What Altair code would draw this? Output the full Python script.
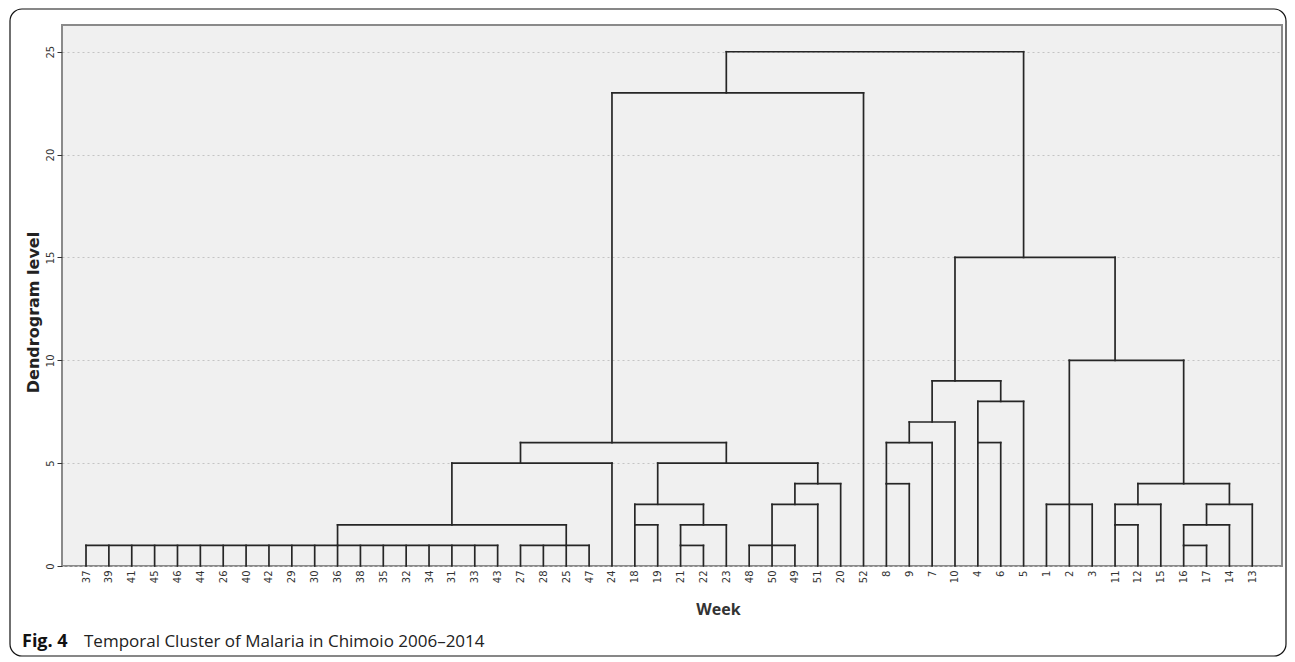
import math
import altair as alt
import pandas as pd

# Leaf order along the x axis (week numbers)
weeks = [37, 39, 41, 45, 46, 44, 26, 40, 42, 29, 30, 36, 38, 35, 32, 34, 31, 33, 43,
         27, 28, 25, 47, 24, 18, 19, 21, 22, 23, 48, 50, 49, 51, 20, 52,
         8, 9, 7, 10, 4, 6, 5, 1, 2, 3, 11, 12, 15, 16, 17, 14, 13]

# Merges: (name, children, dendrogram level, week under the stem for flat merges)
merge_names = ["A1", "A2", "A", "A24", "B1", "B2a", "B2", "B3", "C1", "C2", "C3", "B",
               "L6", "L23", "D1", "D2", "D3", "E1", "E2", "DE", "F", "G1", "G2",
               "H1", "H2", "H3", "GH", "FGH", "R15", "ROOT"]
merge_children = [
    [37, 39, 41, 45, 46, 44, 26, 40, 42, 29, 30, 36, 38, 35, 32, 34, 31, 33, 43],
    [27, 28, 25, 47],
    ["A1", "A2"],
    ["A", 24],
    [18, 19],
    [21, 22],
    ["B2a", 23],
    ["B1", "B2"],
    [48, 50, 49],
    ["C1", 51],
    ["C2", 20],
    ["B3", "C3"],
    ["A24", "B"],
    ["L6", 52],
    [8, 9],
    ["D1", 7],
    ["D2", 10],
    [4, 6],
    ["E1", 5],
    ["D3", "E2"],
    [1, 2, 3],
    [11, 12],
    ["G1", 15],
    [16, 17],
    ["H1", 14],
    ["H2", 13],
    ["G2", "H3"],
    ["F", "GH"],
    ["DE", "FGH"],
    ["L23", "R15"],
]
merge_levels = [1, 1, 2, 5, 2, 1, 2, 3, 1, 3, 4, 5, 6, 23, 4, 6, 7, 6, 8, 9, 3, 2, 3,
                1, 2, 3, 4, 10, 15, 25]
merge_anchor = {"A1": 36, "A2": 25}

y_ticks = [0, 5, 10, 15, 20, 25]

# ---- build the elbow segments of the dendrogram ----
pos = {w: i for i, w in enumerate(weeks)}
stem = {w: float(pos[w]) for w in weeks}
lvl = {w: 0.0 for w in weeks}
rows = []
for name, kids, level in zip(merge_names, merge_children, merge_levels):
    s0, s1 = stem[kids[0]], stem[kids[-1]]
    rows.append({"x": s0, "x2": s1, "y": level, "y2": level})
    for k in kids:
        rows.append({"x": stem[k], "x2": stem[k], "y": lvl[k], "y2": level})
    if name in merge_anchor:
        stem[name] = float(pos[merge_anchor[name]])
    else:
        stem[name] = float(math.floor((s0 + s1) / 2))
    lvl[name] = level
seg = pd.DataFrame(rows)

label_expr = "[" + ",".join("'%d'" % w for w in weeks) + "][datum.value]"

dendro = alt.Chart(seg).mark_rule(color="#262626", strokeWidth=1.7, strokeCap="square").encode(
    x=alt.X("x:Q",
            scale=alt.Scale(domain=[-1.05, 52.3], nice=False, zero=False),
            axis=alt.Axis(values=list(range(len(weeks))), labelExpr=label_expr,
                          labelAngle=270, labelFontSize=10, labelColor="#333333",
                          labelFont="DejaVu Sans", labelPadding=4, ticks=False,
                          domain=False, grid=False, title="Week",
                          titleFont="Open Sans", titleFontSize=16, titleFontWeight="bold",
                          titleColor="#333333", titleX=656, titleY=48,
                          titleAlign="center", titleBaseline="alphabetic")),
    x2="x2:Q",
    y=alt.Y("y:Q",
            scale=alt.Scale(domain=[0, 26.3], nice=False, zero=True),
            axis=alt.Axis(values=y_ticks, labelAngle=270, labelFontSize=10,
                          labelColor="#333333", labelFont="DejaVu Sans",
                          labelPadding=2, tickSize=5, tickColor="#333333",
                          domain=False, grid=True, gridColor="#c4c4c4",
                          gridDash=[2, 3], gridWidth=1.2,
                          title="Dendrogram level", titleFont="DejaVu Sans",
                          titleFontSize=16, titleFontWeight="bold",
                          titleColor="#222222", titlePadding=4, titleY=287)),
    y2="y2:Q",
)

one = pd.DataFrame({"k": [0]})
frame = alt.Chart(one).mark_rect(filled=False, stroke="#111111", strokeWidth=1.2,
                                 cornerRadius=12).encode(
    x=alt.value(-52), x2=alt.value(1224), y=alt.value(-16), y2=alt.value(631))

cap_bold = alt.Chart(one).mark_text(text="Fig. 4", font="Open Sans", fontSize=18,
                                    fontWeight="bold", align="left",
                                    baseline="alphabetic", color="#111111").encode(
    x=alt.value(-40), y=alt.value(622))
cap_text = alt.Chart(one).mark_text(text="Temporal Cluster of Malaria in Chimoio 2006\u20132014",
                                    font="Open Sans", fontSize=17, align="left",
                                    baseline="alphabetic", color="#222222").encode(
    x=alt.value(22), y=alt.value(622))

chart = alt.layer(frame, dendro, cap_bold, cap_text).properties(
    width=1220, height=541,
    padding={"left": 54, "top": 17, "right": 5, "bottom": 91},
    autosize=alt.AutoSizeParams(type="none"),
    background="white",
).configure_view(fill="#f0f0f0", stroke="#8a8a8a", strokeWidth=2)

chart.save("out.html", embed_options={"renderer": "svg", "actions": False})
